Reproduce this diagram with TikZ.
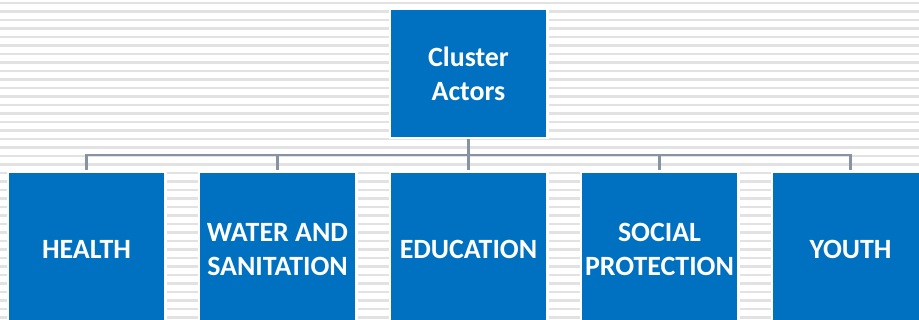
\documentclass[tikz,border=0pt]{standalone}
\usepackage{fontspec}
\setmainfont{Carlito}
\definecolor{boxblue}{HTML}{0070C0}
\definecolor{linegray}{HTML}{8793A0}
\definecolor{stripe}{HTML}{E2E2E2}
\begin{document}
\begin{tikzpicture}[x=1pt,y=-1pt,
  box/.style={rectangle, fill=boxblue, draw=white, line width=2.5pt,
    minimum width=157.5pt, inner sep=0pt, text=white, align=center,
    font=\fontsize{27.9}{34}\selectfont\bfseries},
  top/.style={box, minimum height=129.5pt},
  leaf/.style={box, minimum height=155.5pt},
  conn/.style={draw=linegray, line width=2.3pt}]
\useasboundingbox (0,0) rectangle (919,320);
\fill[white] (0,0) rectangle (919,320);
\foreach \k in {0,...,37} {
  \fill[stripe] (0,{2+8.5*\k}) rectangle (919,{4.3+8.5*\k});
}
\node[top] (cluster) at (468.5,73.5) {Cluster\\Actors};
\node[leaf] (health) at (86.5,249.5) {HEALTH};
\node[leaf] (water) at (277.5,249.5) {WATER AND\\SANITATION};
\node[leaf] (edu) at (468.5,249.5) {EDUCATION};
\node[leaf] (social) at (659.5,249.5) {SOCIAL\\PROTECTION};
\node[leaf] (youth) at (850.5,249.5) {YOUTH};
\coordinate (bus) at (468.5,155);
\draw[conn] (cluster.south) -- (bus);
\foreach \c in {health,water,edu,social,youth} {
  \draw[conn] (bus) -| (\c.north);
}
\end{tikzpicture}
\end{document}
